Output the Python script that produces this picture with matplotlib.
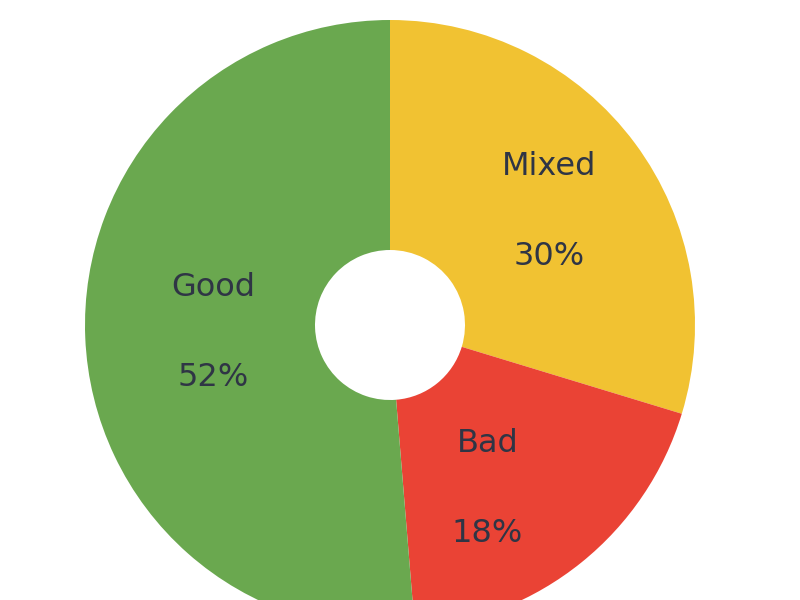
import numpy as np
import matplotlib.pyplot as plt

labels = ['Mixed', 'Bad', 'Good']
shares = [29.7, 19.0, 51.3]          # slice sizes as drawn
pct_labels = ['30%', '18%', '52%']   # printed percentages
colors = ['#f1c232', '#ea4335', '#6aa84f']

fig = plt.figure(figsize=(8, 6), dpi=100)
ax = fig.add_axes([0, 0, 1, 1])
ax.axis('off')

# donut, centre sits a bit low so the bottom gets clipped like the original
cx, cy, r_out, r_in = 390, 275, 305, 75
wedges, _ = ax.pie(shares, colors=colors, startangle=90, counterclock=False,
                   center=(cx, cy), radius=r_out,
                   wedgeprops=dict(width=r_out - r_in, linewidth=0))
ax.set_xlim(0, 800)
ax.set_ylim(0, 600)
ax.set_aspect('equal')

txt_color = '#2f3545'
nudge = {'Mixed': (2, -3), 'Bad': (-25, -12), 'Good': (18, 0)}
for w, lab, pct in zip(wedges, labels, pct_labels):
    mid = np.deg2rad((w.theta1 + w.theta2) / 2)
    dx, dy = nudge[lab]
    x = cx + 195 * np.cos(mid) + dx
    y = cy + 195 * np.sin(mid) + dy
    ax.text(x, y + 45, lab, ha='center', va='center', fontsize=23, color=txt_color)
    ax.text(x, y - 45, pct, ha='center', va='center', fontsize=23, color=txt_color)

fig.savefig('out.png', dpi=100)
